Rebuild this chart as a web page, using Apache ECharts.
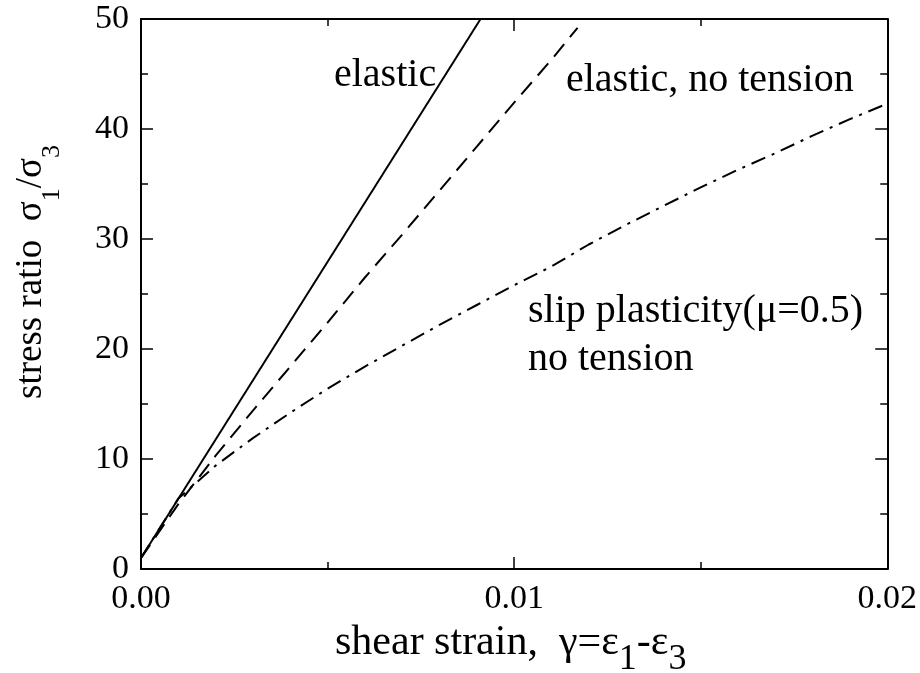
<!DOCTYPE html>
<html>
<head>
<meta charset="utf-8">
<script src="https://cdn.jsdelivr.net/npm/echarts@6/dist/echarts.min.js"></script>
<style>html,body{margin:0;padding:0;background:#fff}#c{width:920px;height:673px}</style>
</head>
<body>
<div id="c"></div>
<script>
// ---- data ----
const xTicks = [0, 0.01, 0.02];
const yTicks = [0, 10, 20, 30, 40, 50];
const elasticX = [0, 0.0091];
const elasticY = [1, 50];
const noTensionX = [0, 0.001, 0.002, 0.003, 0.004, 0.005, 0.006, 0.007, 0.008, 0.009, 0.010, 0.011, 0.0117];
const noTensionY = [1, 5.9, 10.3, 14.4, 18.4, 22.4, 26.5, 30.4, 34.4, 38.4, 42.4, 46.3, 49.2];
const slipX = [0, 0.001, 0.002, 0.003, 0.004, 0.005, 0.006, 0.007, 0.008, 0.009, 0.010, 0.011, 0.012, 0.013, 0.014, 0.015, 0.016, 0.017, 0.018, 0.019, 0.020];
const slipY = [1, 6.4, 9.4, 11.9, 14.2, 16.4, 18.4, 20.3, 22.2, 24.0, 25.8, 27.5, 29.5, 31.3, 33.0, 34.7, 36.3, 37.8, 39.4, 40.9, 42.3];
const labels = ['elastic', 'elastic, no tension', 'slip plasticity(μ=0.5)', 'no tension'];

const FONT = "'Liberation Serif', 'Times New Roman', serif";
const zip = (xs, ys) => xs.map((x, i) => [x, ys[i]]);
const chart = echarts.init(document.getElementById('c'), null, {renderer: 'canvas'});

const axisCommon = {
  axisLine: {show: true, onZero: false, lineStyle: {color: '#000', width: 2}},
  axisTick: {show: true, inside: true, length: 12, lineStyle: {color: '#000', width: 1.5}},
  minorTick: {show: true, splitNumber: 2, length: 7, lineStyle: {color: '#000', width: 1.5}},
  splitLine: {show: false},
  minorSplitLine: {show: false}
};

const option = {
  backgroundColor: '#fff',
  animation: false,
  grid: {left: 141, right: 32, top: 19, bottom: 104},
  xAxis: [
    Object.assign({}, axisCommon, {
      type: 'value', position: 'bottom', min: xTicks[0], max: xTicks[xTicks.length - 1], interval: xTicks[1] - xTicks[0],
      axisLabel: {show: true, margin: 13, color: '#000', fontFamily: FONT, fontSize: 34,
        formatter: v => v.toFixed(2)}
    }),
    Object.assign({}, axisCommon, {
      type: 'value', position: 'top', min: xTicks[0], max: xTicks[xTicks.length - 1], interval: xTicks[1] - xTicks[0],
      axisLabel: {show: false}
    })
  ],
  yAxis: [
    Object.assign({}, axisCommon, {
      type: 'value', position: 'left', min: yTicks[0], max: yTicks[yTicks.length - 1], interval: yTicks[1] - yTicks[0],
      axisLabel: {show: true, margin: 12, color: '#000', fontFamily: FONT, fontSize: 34}
    }),
    Object.assign({}, axisCommon, {
      type: 'value', position: 'right', min: yTicks[0], max: yTicks[yTicks.length - 1], interval: yTicks[1] - yTicks[0],
      axisLabel: {show: false}
    })
  ],
  series: [
    {type: 'line', name: 'elastic', data: zip(elasticX, elasticY), showSymbol: false,
      lineStyle: {color: '#000', width: 2, type: 'solid'}},
    {type: 'line', name: 'elastic, no tension', data: zip(noTensionX, noTensionY), showSymbol: false,
      lineStyle: {color: '#000', width: 2, type: [16, 9]}},
    {type: 'line', name: 'slip plasticity', data: zip(slipX, slipY), showSymbol: false,
      lineStyle: {color: '#000', width: 2, type: [15, 7, 3, 7]}}
  ],
  graphic: [
    {type: 'text', left: 334, top: 55, style: {text: labels[0], fill: '#000', font: '40px ' + FONT}},
    {type: 'text', left: 566, top: 60, style: {text: labels[1], fill: '#000', font: '40px ' + FONT}},
    {type: 'text', left: 528, top: 291, style: {text: labels[2], fill: '#000', font: '40px ' + FONT}},
    {type: 'text', left: 528, top: 339, style: {text: labels[3], fill: '#000', font: '40px ' + FONT}},
    {type: 'text', x: 335, y: 643, style: {
      text: '{m|shear strain,  γ=ε}{s|1}{m|-ε}{s|3}',
      textAlign: 'left', textVerticalAlign: 'middle', fill: '#000',
      rich: {
        m: {fontFamily: FONT, fontSize: 42, fill: '#000'},
        s: {fontFamily: FONT, fontSize: 36, fill: '#000', padding: [34, 0, 0, 0]}
      }
    }},
    {type: 'text', x: 31, y: 272, rotation: Math.PI / 2, style: {
      text: '{m|stress ratio  σ}{s|1}{m|/σ}{s|3}',
      textAlign: 'center', textVerticalAlign: 'middle', fill: '#000',
      rich: {
        m: {fontFamily: FONT, fontSize: 37, fill: '#000'},
        s: {fontFamily: FONT, fontSize: 26, fill: '#000', padding: [42, 0, 0, 0]}
      }
    }}
  ]
};
chart.setOption(option);
</script>
</body>
</html>
